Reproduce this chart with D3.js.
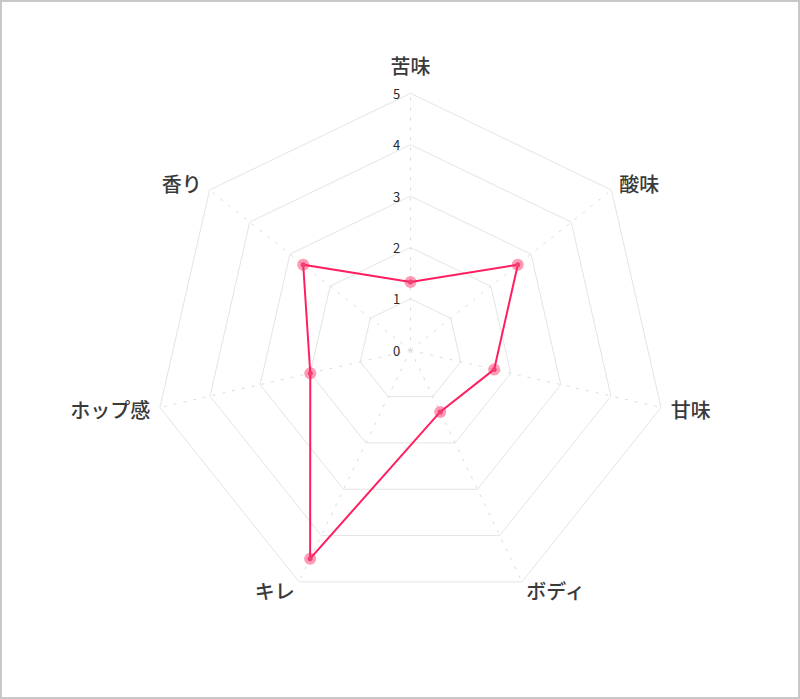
<!DOCTYPE html>
<html>
<head>
<meta charset="utf-8">
<style>
  body { margin: 0; background: #fff; }
  svg text { font-family: "Noto Sans CJK JP", "Noto Sans", sans-serif; }
</style>
</head>
<body>
<svg width="800" height="699"></svg>
<script src="https://d3js.org/d3.v7.min.js"></script>
<script>
// chart data
const axes = ["苦味", "酸味", "甘味", "ボディ", "キレ", "ホップ感", "香り"];
const values = [1.33, 2.67, 1.67, 1.33, 4.5, 2, 2.67];
const tickValues = [0, 1, 2, 3, 4, 5];

const svg = d3.select("svg"),
  width = +svg.attr("width"),
  height = +svg.attr("height");

// outer frame
svg.append("rect")
  .attr("x", 1).attr("y", 1)
  .attr("width", width - 2).attr("height", height - 2)
  .attr("fill", "none")
  .attr("stroke", "#c8c8c8")
  .attr("stroke-width", 2);

const cx = 410.5, cy = 350.3, R = 257;

const r = d3.scaleLinear().domain([0, 5]).range([0, R]);
const angle = d3.scalePoint().domain(axes).range([0, 2 * Math.PI * (axes.length - 1) / axes.length]);

const pos = (name, v) => {
  const a = angle(name);
  return [cx + r(v) * Math.sin(a), cy - r(v) * Math.cos(a)];
};

const g = svg.append("g");

// grid rings
g.selectAll(".ring")
  .data(tickValues.filter(d => d > 0))
  .enter().append("polygon")
  .attr("class", "ring")
  .attr("points", d => axes.map(a => pos(a, d).join(",")).join(" "))
  .attr("fill", "none")
  .attr("stroke", "#e4e4e4")
  .attr("stroke-width", 1);

// angle lines (dashed)
g.selectAll(".spoke")
  .data(axes)
  .enter().append("line")
  .attr("class", "spoke")
  .attr("x1", cx).attr("y1", cy)
  .attr("x2", d => pos(d, 5)[0])
  .attr("y2", d => pos(d, 5)[1])
  .attr("stroke", "#dcdcdc")
  .attr("stroke-width", 1)
  .attr("stroke-dasharray", "3,7");

// tick labels
g.selectAll(".tick")
  .data(tickValues)
  .enter().append("text")
  .attr("class", "tick")
  .attr("x", cx - 14)
  .attr("y", d => cy - r(d))
  .attr("text-anchor", "middle")
  .attr("dominant-baseline", "central")
  .attr("font-size", 13)
  .attr("fill", "#2a2a2a")
  .text(d => d);

// axis labels
g.selectAll(".label")
  .data(axes)
  .enter().append("text")
  .attr("class", "label")
  .attr("x", d => cx + (R + 10) * Math.sin(angle(d)))
  .attr("y", d => {
    const a = angle(d);
    const y = cy - (R + 10) * Math.cos(a);
    return a === 0 ? y - 18 : y;
  })
  .attr("text-anchor", d => {
    const s = Math.sin(angle(d));
    return Math.abs(s) < 1e-6 ? "middle" : (s > 0 ? "start" : "end");
  })
  .attr("dominant-baseline", "central")
  .attr("font-size", 20)
  .attr("font-weight", 500)
  .attr("fill", "#3a3a3a")
  .text(d => d);

// data line
const pts = axes.map((a, i) => pos(a, values[i]));
g.append("path")
  .attr("d", d3.line().curve(d3.curveLinearClosed)(pts))
  .attr("fill", "none")
  .attr("stroke", "#ff1f60")
  .attr("stroke-width", 2);

// points
g.selectAll(".pt")
  .data(pts)
  .enter().append("circle")
  .attr("class", "pt")
  .attr("cx", d => d[0]).attr("cy", d => d[1])
  .attr("r", 6)
  .attr("fill", "rgba(255, 31, 96, 0.45)");

g.selectAll(".ptc")
  .data(pts)
  .enter().append("circle")
  .attr("class", "ptc")
  .attr("cx", d => d[0]).attr("cy", d => d[1])
  .attr("r", 2.5)
  .attr("fill", "#f0406f");
</script>
</body>
</html>
